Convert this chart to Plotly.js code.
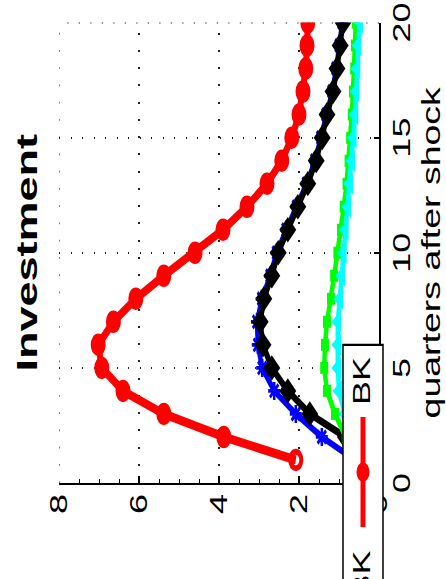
<!DOCTYPE html>
<html>
<head>
<meta charset="utf-8">
<script src="https://cdn.plot.ly/plotly-3.0.1.min.js"></script>
<style>
  html, body { margin: 0; padding: 0; background: #fff; }
  body { width: 446px; height: 579px; overflow: hidden; position: relative; }
  /* the figure is laid out upright, then turned a quarter turn and stretched along its time axis */
  #plot {
    position: absolute; left: 0; top: 0;
    width: 386px; height: 446px;
    transform-origin: 0 0;
    transform: translate(0px, 579px) rotate(-90deg) scaleX(1.5);
  }
</style>
</head>
<body>
<div id="plot"></div>
<script>
// impulse responses of investment, quarters 1..20
const quarters = [1, 2, 3, 4, 5, 6, 7, 8, 9, 10, 11, 12, 13, 14, 15, 16, 17, 18, 19, 20];
const bkRed   = [2.08, 3.88, 5.38, 6.40, 6.93, 7.02, 6.64, 6.08, 5.38, 4.60, 3.90, 3.30, 2.80, 2.43, 2.18, 2.00, 1.90, 1.83, 1.80, 1.78];
const blueIrf = [0.60, 1.43, 2.08, 2.62, 2.92, 3.03, 3.05, 2.93, 2.72, 2.56, 2.32, 2.06, 1.81, 1.60, 1.45, 1.32, 1.17, 1.07, 0.99, 0.92];
const blackIrf= [0.10, 0.84, 1.73, 2.28, 2.68, 2.90, 2.97, 2.88, 2.68, 2.52, 2.28, 2.03, 1.78, 1.57, 1.42, 1.30, 1.15, 1.05, 0.97, 0.90];
const greenIrf= [0.40, 0.83, 1.10, 1.30, 1.37, 1.35, 1.30, 1.20, 1.12, 1.04, 0.95, 0.88, 0.81, 0.76, 0.72, 0.68, 0.65, 0.62, 0.60, 0.58];
const cyanIrf = [0.30, 0.60, 0.85, 1.00, 1.03, 1.03, 1.03, 0.98, 0.93, 0.89, 0.84, 0.78, 0.73, 0.68, 0.64, 0.60, 0.57, 0.55, 0.52, 0.48];
const xTicks = [0, 5, 10, 15, 20];
const yTicks = [0, 2, 4, 6, 8];
const xRange = [0, 20];
const yRange = [0, 8];
const legendName = 'BK';

// figure geometry (upright frame, before rotation)
const W = 386, H = 446, L = 64, R = 15.3, T = 59, B = 67;
const PW = W - L - R, PH = H - T - B;
const px = u => (u - L) / PW;          // pixel -> paper x
const py = v => 1 - (v - T) / PH;      // pixel -> paper y

const FONT = 'Liberation Sans, Arial, sans-serif';
const GRID = { color: '#222', width: 1.2, dash: '1.2px,10.3px' };

function series(y, color, width, marker) {
  return {
    type: 'scatter', mode: 'lines+markers', x: quarters, y: y,
    line: { color: color, width: width },
    marker: Object.assign({ color: color }, marker),
    showlegend: false, hoverinfo: 'skip'
  };
}

const redSymbols = bkRed.map((v, i) => (i === 0 ? 'circle-open' : 'circle'));

const data = [
  series(blueIrf, '#0000ff', 4.5, { symbol: 'asterisk-open', size: 10, line: { color: '#0000ff', width: 2.5 } }),
  series(blackIrf, '#000000', 5, { symbol: 'diamond', size: 13 }),
  series(greenIrf, '#00ff00', 4.5, { symbol: 'square', size: 8 }),
  series(cyanIrf, '#00ffff', 4.5, { symbol: 'triangle-up', size: 13 }),
  Object.assign(series(bkRed, '#ff0000', 6, { symbol: redSymbols, size: 11, line: { color: '#ff0000', width: 4 } }),
    { name: legendName })
];

const axisCommon = {
  showline: true, linecolor: '#000', linewidth: 1.5, mirror: false,
  ticks: 'inside', ticklen: 5, tickwidth: 1.5, tickcolor: '#000',
  showgrid: true, gridcolor: GRID.color, gridwidth: GRID.width, griddash: GRID.dash,
  zeroline: false, tickfont: { family: FONT, size: 24, color: '#000' }
};

const legendV = 363;   // centre line of the legend strip
const layout = {
  width: W, height: H,
  margin: { l: L, r: R, t: T, b: B, pad: 0 },
  paper_bgcolor: '#fff', plot_bgcolor: '#fff',
  showlegend: false,
  title: {
    text: 'Investment', font: { family: FONT, size: 30, weight: 'bold', color: '#000' },
    xref: 'paper', x: 0.5, xanchor: 'center',
    yref: 'container', y: 1 - 27 / H, yanchor: 'middle'
  },
  xaxis: Object.assign({}, axisCommon, {
    range: xRange, tickvals: xTicks, ticklabelstandoff: 1
  }),
  yaxis: Object.assign({}, axisCommon, {
    range: yRange, tickvals: yTicks, ticklabelstandoff: 1,
    minor: { dtick: 0.5, ticks: 'inside', ticklen: 3, tickwidth: 1, tickcolor: '#000', showgrid: false }
  }),
  shapes: [
    // dotted grid along the far edges of the axes box
    { type: 'line', xref: 'x', yref: 'y', layer: 'below',
      x0: xRange[1], x1: xRange[1], y0: yRange[0], y1: yRange[1], line: GRID },
    { type: 'line', xref: 'x', yref: 'y', layer: 'below',
      x0: xRange[0], x1: xRange[1], y0: yRange[1], y1: yRange[1], line: GRID },
    // legend frame
    { type: 'rect', xref: 'paper', yref: 'paper', layer: 'above',
      x0: px(-6), x1: px(156), y0: py(383), y1: py(343),
      fillcolor: '#fff', line: { color: '#000', width: 1.5 } },
    // legend line sample
    { type: 'line', xref: 'paper', yref: 'paper', layer: 'above',
      x0: px(34.7), x1: px(108), y0: py(legendV), y1: py(legendV),
      line: { color: '#ff0000', width: 5 } },
    // legend marker sample
    { type: 'circle', xref: 'paper', yref: 'paper', layer: 'above',
      x0: px(71.3 - 6.5), x1: px(71.3 + 6.5), y0: py(legendV - 6.5), y1: py(legendV + 6.5),
      fillcolor: '#ff0000', line: { color: '#ff0000', width: 0 } }
  ],
  annotations: [
    { text: 'quarters after shock', xref: 'paper', yref: 'paper', x: 0.5, y: py(431),
      xanchor: 'center', yanchor: 'middle', showarrow: false,
      font: { family: FONT, size: 25, color: '#000' } },
    { text: legendName, xref: 'paper', yref: 'paper', x: px(114), y: py(361),
      xanchor: 'left', yanchor: 'middle', showarrow: false,
      font: { family: FONT, size: 24, color: '#000' } },
    { text: legendName, xref: 'paper', yref: 'paper', x: px(21), y: py(361),
      xanchor: 'right', yanchor: 'middle', showarrow: false,
      font: { family: FONT, size: 24, color: '#000' } }
  ]
};

Plotly.newPlot('plot', data, layout, { staticPlot: true, displayModeBar: false });
</script>
</body>
</html>
